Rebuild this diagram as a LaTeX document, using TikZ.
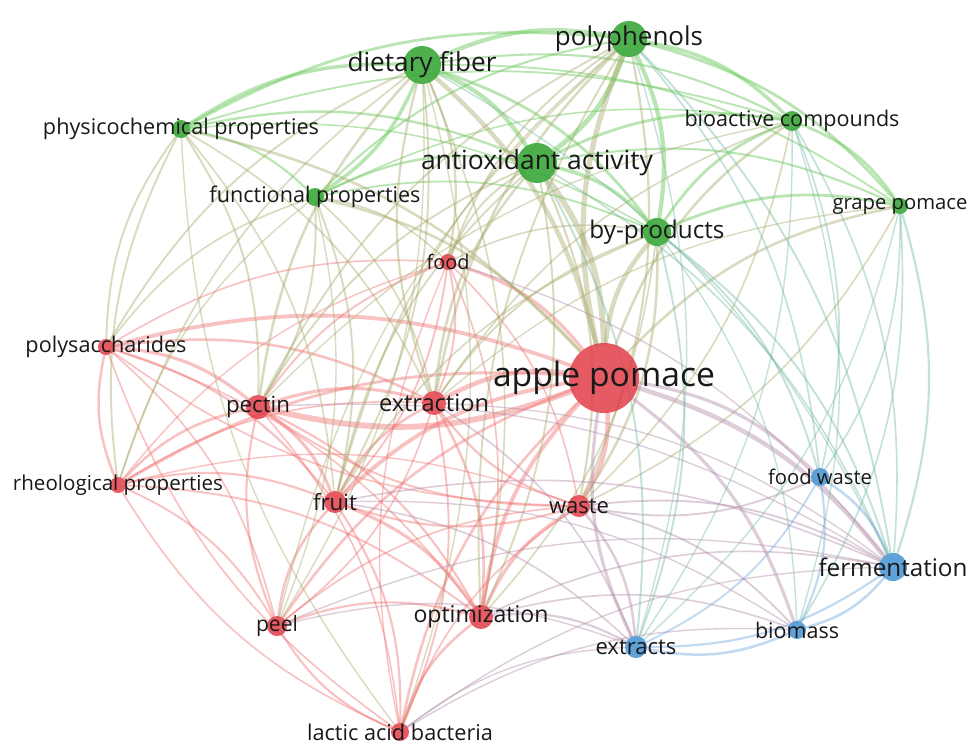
\documentclass[tikz,border=0pt]{standalone}
\usepackage{fontspec}
\setmainfont{Open Sans}
\usepackage{graphicx}
\begin{document}
\definecolor{nR}{RGB}{225,62,72}
\definecolor{nG}{RGB}{58,168,58}
\definecolor{nB}{RGB}{78,152,212}
\definecolor{eR}{RGB}{242,110,110}
\definecolor{eG}{RGB}{115,205,100}
\definecolor{eB}{RGB}{110,165,225}
\definecolor{txt}{RGB}{25,25,25}
\pgfdeclarelayer{bgpaper}
\pgfdeclarelayer{edges}
\pgfsetlayers{bgpaper,edges,main}
\begin{tikzpicture}[x=1pt,y=-1pt,
  nd/.style={circle,inner sep=0pt,draw=none,minimum size=#1},
  rnode/.style={nd=#1,fill=nR,fill opacity=0.85},
  gnode/.style={nd=#1,fill=nG,fill opacity=0.9},
  bnode/.style={nd=#1,fill=nB,fill opacity=0.9},
  lbl/.style={inner sep=0pt,text=txt,anchor=center},
  edge/.style={opacity=0.42,line cap=round},
  eRR/.style={edge,draw=eR},
  eGG/.style={edge,draw=eG,opacity=0.5},
  eBB/.style={edge,draw=eB},
  eRG/.style={edge,draw=eR!40!eG},
  eRB/.style={edge,draw=eR!50!eB},
  eGB/.style={edge,draw=eG!50!eB}]
\useasboundingbox (0,0) rectangle (979,745);
\begin{pgfonlayer}{bgpaper}
\fill[white] (0,0) rectangle (979,745);
\end{pgfonlayer}
% nodes (circles)
\node[rnode=70pt] (AP) at (604,378) {};
\node[gnode=36pt] (PP) at (629,39) {};
\node[gnode=38pt] (DF) at (422,65) {};
\node[gnode=40pt] (AA) at (537,163) {};
\node[gnode=18pt] (PC) at (181,129) {};
\node[gnode=20pt] (BC) at (792,121) {};
\node[gnode=18pt] (FP) at (315,197) {};
\node[gnode=16pt] (GP) at (900,206) {};
\node[gnode=28pt] (BP) at (657,232) {};
\node[rnode=16pt] (FO) at (448,262) {};
\node[rnode=16pt] (PS) at (106,347) {};
\node[rnode=24pt] (PE) at (258,407) {};
\node[rnode=24pt] (EX) at (434,403) {};
\node[rnode=16pt] (RP) at (118,485) {};
\node[rnode=22pt] (FR) at (335,502) {};
\node[rnode=22pt] (WA) at (579,506) {};
\node[bnode=18pt] (FW) at (820,477) {};
\node[bnode=28pt] (FE) at (893,567) {};
\node[rnode=20pt] (PL) at (277,626) {};
\node[rnode=24pt] (OP) at (481,617) {};
\node[bnode=22pt] (ET) at (636,647) {};
\node[bnode=18pt] (BM) at (797,630) {};
\node[rnode=18pt] (LA) at (400,732) {};
% edges
\begin{pgfonlayer}{edges}
\foreach \a/\b/\w in {AP/PE/4,EX/AP/3,AP/WA/3,FR/AP/2.5,FO/AP/2,OP/AP/2.5,PS/AP/2.5,RP/AP/1.8,PL/AP/1.5,LA/AP/1.5,
  PS/PE/2,PE/EX/2,PE/FR/2,RP/PE/1.5,RP/PS/1.5,PS/EX/1.5,FR/EX/1.5,PL/FR/1.5,FR/OP/2,EX/OP/1.5,PL/OP/1.2,LA/OP/1.5,LA/PL/1.2,FR/LA/1.2,PE/OP/1.2,PL/PE/1.2,
  OP/WA/2,WA/FR/1.2,WA/EX/1.2,FO/EX/1,PE/FO/1,FO/FR/1,PS/FR/1.2,RP/FR/1.2,RP/PL/1,RP/OP/1,PS/OP/0.8,PS/PL/0.8,RP/EX/0.8,LA/RP/0.8,LA/PS/0.8,EX/LA/1,
  PE/LA/0.8,LA/WA/0.8,WA/PE/1,FO/OP/0.8,PS/FO/0.8,FO/WA/0.8,PL/WA/0.8,EX/PL/0.8,RP/FO/0.6,LA/FO/0.6,WA/PS/0.8,RP/WA/0.6}
  \draw[eRR,line width={\w*1.3pt+0.6pt}] (\a) to[bend left=17] (\b);
\foreach \a/\b/\w in {DF/PP/2.5,PP/AA/3,DF/AA/2.5,PP/BC/2,PP/BP/2.5,AA/BP/2,PP/GP/1.5,AA/BC/1.5,PC/DF/2,DF/FP/2,PC/FP/1,PC/PP/1.5,PC/AA/1.2,
  BC/GP/1.5,BP/BC/1.5,BP/GP/1.5,DF/BP/1.5,DF/BC/1,FP/AA/1.2,FP/PP/1,AA/GP/1,PC/BC/0.8,DF/GP/0.8,FP/BP/0.8,PC/BP/0.6,FP/BC/0.6}
  \draw[eGG,line width={\w*1.4pt+0.7pt}] (\a) to[bend left=17] (\b);
\foreach \a/\b/\w in {AP/PP/3.5,DF/AP/3,AA/AP/4,AP/BP/3,PC/AP/1.5,FP/AP/1.5,AP/BC/1.5,AP/GP/1.5,
  PE/DF/1.5,EX/DF/1.2,DF/FR/1,PS/DF/1,RP/DF/0.8,DF/FO/1.2,EX/AA/1.5,AA/WA/1.2,FR/AA/1,AA/OP/1,PE/AA/1,FO/AA/1,EX/PP/1.5,PP/WA/1.2,OP/PP/1,FR/PP/1,PE/PP/1,FO/PP/1,
  PS/PC/1,PC/PE/1,RP/PC/1,PC/FR/0.8,PC/EX/0.8,FP/PE/1,FP/FR/1,PS/FP/0.8,FP/EX/0.8,FP/FO/0.8,BP/WA/1.5,EX/BP/1,FO/BP/0.8,FR/BP/0.8,BP/OP/0.8,EX/BC/0.8,BC/WA/0.8,GP/WA/0.8,
  LA/PC/0.6,DF/LA/0.6,DF/OP/0.8,RP/FP/0.6,FP/PL/0.6,PL/PP/0.6,DF/PL/0.6,EX/GP/0.6,PE/BC/0.6}
  \draw[eRG,line width={\w*1.3pt+0.6pt}] (\a) to[bend left=17] (\b);
\foreach \a/\b/\w in {AP/FE/3,ET/AP/2,AP/BM/2,AP/FW/2,WA/FE/1,WA/BM/1,WA/ET/1.5,FW/WA/1,OP/ET/1.2,OP/FE/0.8,OP/BM/0.8,PL/FE/0.6,LA/FE/0.6,PL/ET/0.6,
  FR/BM/0.6,FR/ET/0.8,FR/FE/0.8,EX/ET/0.8,EX/FE/0.6,PE/FE/0.6,LA/ET/0.6,LA/BM/0.6,FO/FE/0.6}
  \draw[eRB,line width={\w*1.3pt+0.6pt}] (\a) to[bend left=17] (\b);
\foreach \a/\b/\w in {GP/FE/1.2,GP/FW/0.8,BC/FW/0.8,BC/FE/0.8,GP/BM/0.8,GP/ET/0.6,BP/FE/1,BP/FW/1,PP/FE/1,PP/FW/0.8,AA/FE/0.8,AA/ET/1,DF/FE/0.6,BC/ET/0.6,BP/ET/1,BP/BM/0.6,BC/BM/0.6,PP/ET/0.6}
  \draw[eGB,line width={\w*1.3pt+0.6pt}] (\a) to[bend left=17] (\b);
\foreach \a/\b/\w in {FE/BM/1.5,FW/FE/1.5,BM/ET/1.5,FE/ET/1.2,FW/ET/1,FW/BM/1.2}
  \draw[eBB,line width={\w*1.3pt+0.6pt}] (\a) to[bend left=17] (\b);
\end{pgfonlayer}
% labels
\node[lbl] (tAP) at (AP) {\resizebox{222pt}{!}{apple pomace}};
\node[lbl] (tPP) at (PP) {\resizebox{148pt}{!}{polyphenols}};
\node[lbl] (tDF) at (DF) {\resizebox{149pt}{!}{dietary fiber}};
\node[lbl] (tAA) at (AA) {\resizebox{232pt}{!}{antioxidant activity}};
\node[lbl] (tPC) at (PC) {\resizebox{276pt}{!}{physicochemical properties}};
\node[lbl] (tBC) at (BC) {\resizebox{215pt}{!}{bioactive compounds}};
\node[lbl] (tFP) at (FP) {\resizebox{211pt}{!}{functional properties}};
\node[lbl] (tGP) at (GP) {\resizebox{135pt}{!}{grape pomace}};
\node[lbl] (tBP) at (BP) {\resizebox{135pt}{!}{by-products}};
\node[lbl] (tFO) at (FO) {\resizebox{43pt}{!}{food}};
\node[lbl] (tPS) at (PS) {\resizebox{161pt}{!}{polysaccharides}};
\node[lbl] (tPE) at (PE) {\resizebox{64pt}{!}{pectin}};
\node[lbl] (tEX) at (EX) {\resizebox{110pt}{!}{extraction}};
\node[lbl] (tRP) at (RP) {\resizebox{210pt}{!}{rheological properties}};
\node[lbl] (tFR) at (FR) {\resizebox{44pt}{!}{fruit}};
\node[lbl] (tWA) at (WA) {\resizebox{60pt}{!}{waste}};
\node[lbl] (tFW) at (FW) {\resizebox{104pt}{!}{food waste}};
\node[lbl] (tFE) at (FE) {\resizebox{149pt}{!}{fermentation}};
\node[lbl] (tPL) at (PL) {\resizebox{42pt}{!}{peel}};
\node[lbl] (tOP) at (OP) {\resizebox{135pt}{!}{optimization}};
\node[lbl] (tET) at (ET) {\resizebox{81pt}{!}{extracts}};
\node[lbl] (tBM) at (BM) {\resizebox{84pt}{!}{biomass}};
\node[lbl] (tLA) at (LA) {\resizebox{186pt}{!}{lactic acid bacteria}};
\end{tikzpicture}
\end{document}
